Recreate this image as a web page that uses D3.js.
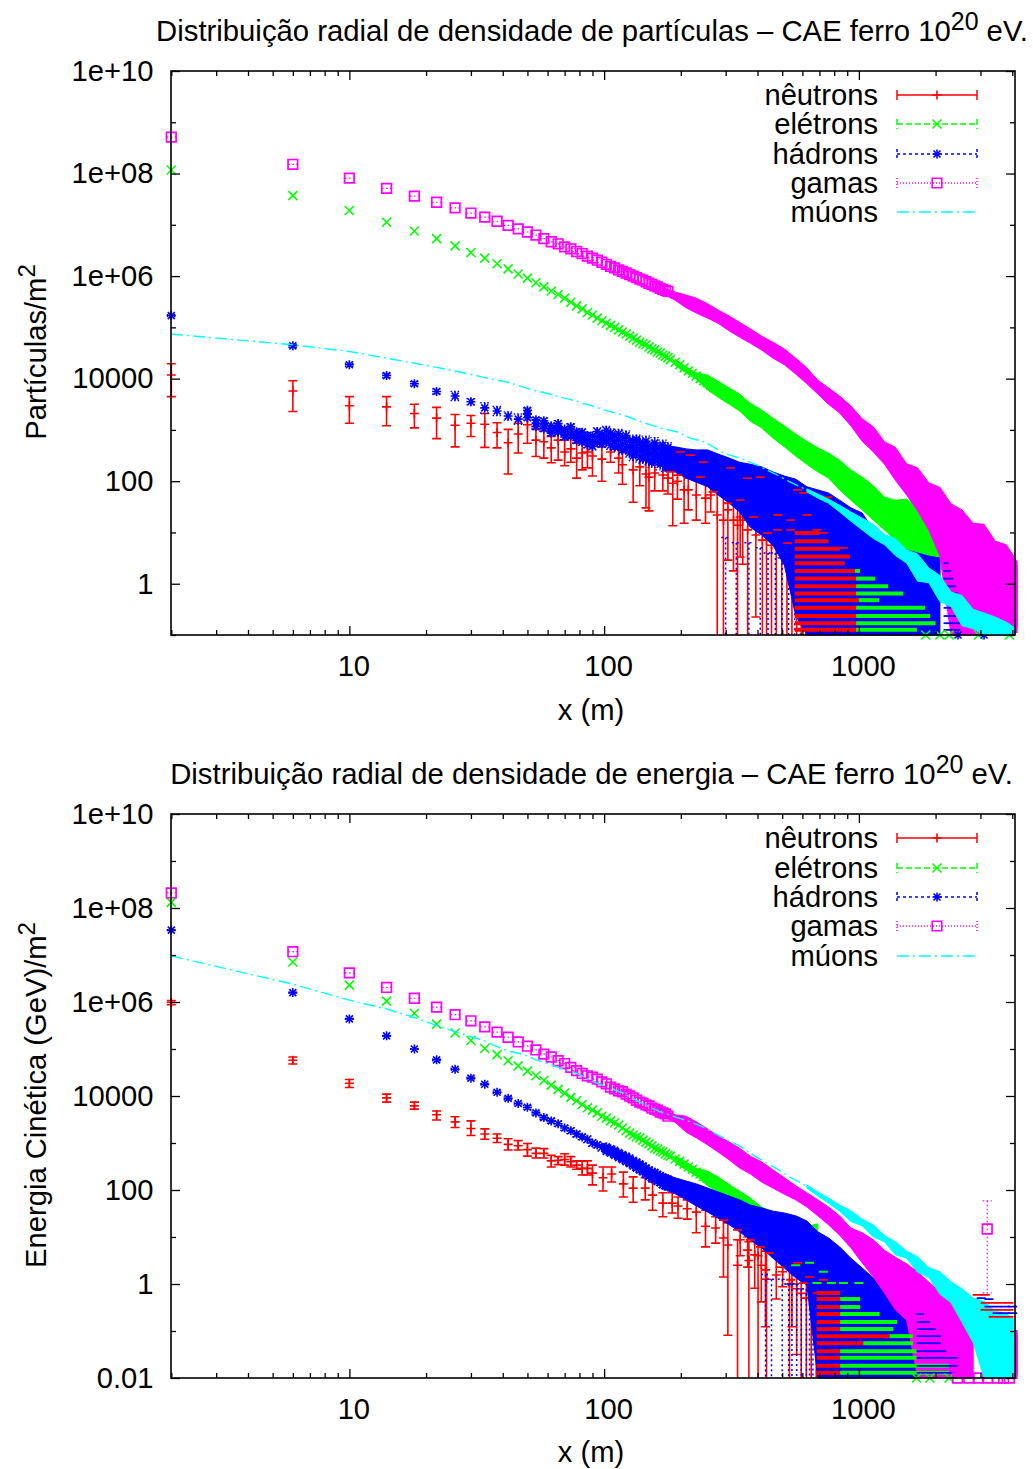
<!DOCTYPE html>
<html>
<head>
<meta charset="utf-8">
<script src="https://cdn.jsdelivr.net/npm/d3@7"></script>
<style>
  body { margin: 0; background: #fff; }
  text { font-family: "Liberation Sans", Arial, sans-serif; fill: #000; }
</style>
</head>
<body>
<svg id="grafico" width="1033" height="1469"></svg>
<script>
var binsX = [2,6,10,14,18,22,26,30,34,38,42,46,50,54,58,62,66,70,74,78,82,86,90,94,98,102,106,110,114,118,122,126,130,134,138,142,146,150,154,158,162,166,170,174,178];

var gamasTopo = [8.71,8.18,7.91,7.71,7.56,7.44,7.33,7.23,7.15,7.07,6.99,6.92,6.86,6.80,6.73,6.67,6.63,6.57,6.53,6.48,6.44,6.39,6.35,6.31,6.27,6.23,6.19,6.16,6.12,6.09,6.06,6.03,6.00,5.97,5.94,5.92,5.89,5.86,5.84,5.81,5.79,5.76,5.74,5.72,5.70];
var eletronsTopo = [8.07,7.57,7.28,7.05,6.88,6.73,6.59,6.46,6.35,6.24,6.14,6.04,5.96,5.87,5.79,5.71,5.64,5.57,5.49,5.42,5.36,5.29,5.24,5.18,5.13,5.08,5.04,5.00,4.95,4.91,4.87,4.83,4.79,4.75,4.71,4.68,4.66,4.62,4.58,4.56,4.52,4.50,4.46,4.44,4.41];
var hadronsTopo = [5.23,4.64,4.27,4.06,3.90,3.75,3.66,3.55,3.43,3.37,3.27,3.21,3.31,3.13,3.10,3.01,3.04,2.94,2.97,2.88,2.86,2.80,2.78,2.86,2.82,2.88,2.82,2.78,2.80,2.72,2.76,2.67,2.63,2.69,2.61,2.57,2.63,2.55,2.51,2.59,2.53,2.49,2.55,2.45,2.51];
var hadronsErrTopo = [0.02,0.03,0.03,0.04,0.04,0.05,0.09,0.06,0.10,0.09,0.08,0.10,0.12,0.11,0.13,0.12,0.14,0.13,0.15,0.14,0.16,0.15,0.17,0.18,0.16,0.19,0.20,0.18,0.21,0.19,0.22,0.20,0.23,0.21,0.24,0.22,0.25,0.23,0.24,0.26,0.22,0.27,0.25,0.26,0.24];

var gamasBase = [8.32,7.07,6.62,6.31,6.08,5.89,5.73,5.60,5.47,5.36,5.25,5.15,5.06,4.98,4.89,4.83,4.75,4.69,4.61,4.54,4.48,4.43,4.40,4.36,4.30,4.26,4.19,4.15,4.11,4.09,4.04,4.00,3.96,3.91,3.87,3.85,3.81,3.79,3.74,3.72,3.70,3.66,3.64,3.62,3.57];
var eletronsBase = [8.12,6.85,6.36,6.02,5.76,5.53,5.34,5.18,5.01,4.88,4.75,4.64,4.53,4.43,4.33,4.23,4.14,4.06,3.97,3.90,3.82,3.75,3.70,3.64,3.57,3.53,3.47,3.43,3.38,3.32,3.26,3.21,3.17,3.13,3.11,3.06,3.02,2.98,2.94,2.89,2.87,2.83,2.81,2.77,2.74];
var hadronsBase = [7.53,6.20,5.64,5.28,5.00,4.77,4.57,4.38,4.25,4.08,3.95,3.84,3.76,3.64,3.54,3.47,3.41,3.32,3.26,3.19,3.13,3.08,3.00,2.96,2.91,2.87,2.83,2.79,2.74,2.70,2.66,2.62,2.57,2.53,2.49,2.45,2.40,2.36,2.32,2.30,2.26,2.23,2.19,2.17,2.15];
var hadronsErrBase = [0.01,0.01,0.01,0.01,0.01,0.02,0.02,0.02,0.02,0.03,0.03,0.03,0.04,0.04,0.04,0.05,0.05,0.05,0.06,0.06,0.06,0.07,0.07,0.07,0.08,0.08,0.08,0.09,0.09,0.09,0.10,0.10,0.10,0.11,0.11,0.11,0.12,0.12,0.12,0.13,0.13,0.13,0.14,0.14,0.14];

// eletrons: os xis continuam visiveis alem dos outros simbolos
var eletronsExtraX = [182,190,198,206,214,222,230,238,246,254,262,270,280,290,300];
var eletronsExtraTopo = [4.37,4.32,4.27,4.21,4.15,4.10,4.05,4.00,3.96,3.92,3.87,3.83,3.79,3.74,3.70];
var eletronsExtraBase = [2.72,2.66,2.61,2.55,2.49,2.44,2.38,2.34,2.29,2.25,2.21,2.16,2.12,2.08,2.04];

// neutrons: x, valor, barra superior, barra inferior
var neutronsXTopo = [2,6,10,14,18,22,26,30,34,38,42,46,50,54,58,62,66,70,74,78,82,86,90,98,106,114,118,130,138,146,150,158,170,178,186,194,206,214,230,250,262,278,294,306,322,334,342,350,366,394,418,434,454,474,498,522,546,570,594,618,642,674,706];
var neutronsTopo = [4.07,3.76,3.47,3.45,3.32,3.23,3.09,3.13,3.11,2.95,2.75,2.92,3.10,2.80,2.77,2.65,2.80,2.57,2.63,2.45,2.55,2.57,2.49,2.43,2.57,2.45,2.32,2.22,2.28,2.14,2.08,2.16,2.12,2.06,1.96,2.00,1.83,1.83,1.73,1.67,1.73,1.34,1.24,1.44,1.24,1.14,1.30,1.24,1.05,0.95,0.85,0.85,0.75,0.75,0.66,0.56,0.5,0.45,0.4,0.35,0.3,0.2,0.1];
var neutronsAltoTopo = [4.29,3.96,3.65,3.65,3.50,3.44,3.30,3.28,3.32,3.14,3.01,3.13,3.32,3.01,2.98,2.87,3.00,2.80,2.84,2.74,2.78,2.80,2.72,2.67,2.74,2.67,2.57,2.53,2.51,2.43,2.41,2.37,2.32,2.30,2.32,2.22,2.12,2.06,2.02,1.96,1.92,1.89,1.83,1.87,1.73,1.69,1.73,1.69,1.63,1.53,1.44,1.40,1.34,1.34,1.24,1.14,1.1,1.05,1.0,0.95,0.9,0.8,0.7];
var neutronsBaixoTopo = [3.65,3.36,3.13,3.08,3.04,2.83,2.67,2.87,2.66,2.65,2.14,2.55,2.74,2.48,2.45,2.36,2.41,2.30,2.37,2.06,2.22,2.26,2.10,2.00,2.37,2.16,1.94,1.59,1.91,1.48,1.42,1.81,1.81,1.75,1.13,1.65,1.18,1.44,1.24,1.18,1.40,-1,-1,0.46,0.25,-1,0.52,0.38,-1,-0.65,-1,-1,-1,-1,-1,-1,-1,-1,-1,-1,-1,-1,-1];

var neutronsXBase = [2,6,10,14,18,22,26,30,34,38,42,46,50,54,58,62,66,70,74,78,82,86,90,99,107,119,130,145,155,170,185,195,212,230,250,274,294,306,334,342,366,370,390,402,414,430,434,474,502,534,546,570,594,622,650,680];
var neutronsBase = [5.99,4.76,4.27,3.96,3.79,3.60,3.45,3.31,3.19,3.10,2.97,2.94,2.86,2.78,2.78,2.62,2.63,2.65,2.60,2.53,2.46,2.46,2.36,2.26,2.34,2.13,2.04,2.04,1.89,1.72,1.72,1.66,1.60,1.53,1.23,1.19,0.98,0.83,0.40,0.94,0.72,0.5,0.62,0.6,0.40,0.30,0.1,0.19,0.26,0,0,-0.1,-0.2,-0.3,-0.3,-0.3];
var neutronsAltoBase = [6.03,4.83,4.35,4.04,3.87,3.68,3.56,3.47,3.30,3.19,3.09,3.05,2.99,2.89,2.88,2.74,2.71,2.77,2.71,2.62,2.62,2.62,2.53,2.49,2.49,2.38,2.28,2.26,2.17,1.94,1.94,1.85,1.79,1.85,1.57,1.43,1.38,1.30,0.94,1.21,1.0,0.9,1.0,0.85,0.79,0.77,0.7,0.57,0.45,0.40,0.45,0.30,0.2,0.1,0.1,0];
var neutronsBaixoBase = [5.94,4.68,4.18,3.87,3.72,3.49,3.33,3.16,3.08,3.01,2.85,2.85,2.72,2.68,2.68,2.49,2.54,2.53,2.49,2.44,2.32,2.32,2.11,1.98,2.17,1.85,1.74,1.79,1.57,1.43,1.51,1.40,1.38,1.09,0.79,0.87,0.15,-1.09,-2,0.60,0.36,-2,-0.09,-2,-0.38,-0.91,-2,-0.32,-0.06,-2,-0.91,-1.5,-2,-2,-2,-2];

// envelope das nuvens densas, onde os simbolos ja formam uma faixa cheia
var faixaX = [170,190,210,230,255,280,310,340,375,415,460,510,565,625,690,760,840,930,1030,1140,1260,1390,1540,1700,1880,2080,2300,2540,2810,3100,3430,3790,4100];

var gamasAltoTopo = [5.77,5.69,5.63,5.57,5.46,5.34,5.22,5.10,4.97,4.83,4.71,4.58,4.40,4.21,3.97,3.82,3.66,3.47,3.22,3.06,2.77,2.66,2.34,2.26,1.97,1.88,1.56,1.44,1.18,1.16,0.83,0.76,0.50];
var gamasBaixoTopo = [5.65,5.53,5.38,5.28,5.18,5.08,4.93,4.81,4.69,4.56,4.40,4.27,4.09,3.90,3.70,3.50,3.33,3.08,2.78,2.57,2.33,2.02,1.73,1.42,1.05,0.54,-1,-1,-1,-1,-1,-1,-1];
var eletronsAltoTopo = [4.38,4.23,4.11,4.07,3.95,3.82,3.70,3.52,3.39,3.23,3.08,2.92,2.78,2.65,2.55,2.41,2.22,2.08,1.91,1.69,1.63,1.65,1.50,1.24,1.15];
var eletronsBaixoTopo = [4.26,4.11,3.99,3.78,3.64,3.50,3.37,3.17,3.04,2.84,2.67,2.49,2.33,2.18,2.06,1.83,1.63,1.44,1.24,1.05,0.85,0.66,0.46,0.27,0.07];
var hadronsAltoTopo = [2.69,2.67,2.63,2.61,2.61,2.53,2.45,2.37,2.33,2.28,2.18,2.10,2.04,1.89,1.83,1.77,1.63,1.48,1.38,1.05,0.89,0.75,0.66,0.60,0.54,0.50];
var hadronsBaixoTopo = [2.22,2.18,2.06,1.98,1.89,1.73,1.57,1.40,1.10,0.95,0.75,0.36,-0.62,-1,-1,-1,-1,-1,-1,-1,-1,-1,-1,-1,-1,-1];
var muonsAltoTopo = [1.85,1.75,1.65,1.53,1.40,1.28,1.16,0.96,0.88,0.66,0.58,0.31,0.16,-0.16,-0.23,-0.50,-0.57,-0.65,-0.75,-0.86];
var muonsBaixoTopo = [1.79,1.67,1.57,1.40,1.22,1.05,0.88,0.76,0.55,0.40,0.05,0.02,-0.35,-0.45,-0.82,-0.88,-1,-1,-1,-1];

var gamasAltoBase = [3.72,3.60,3.57,3.45,3.30,3.15,3.02,2.89,2.72,2.60,2.43,2.26,2.09,1.94,1.79,1.64,1.45,1.19,1.09,0.94,0.72,0.57,0.43,0.26,0.04,-0.15,-0.40,-0.66,-1.13];
var gamasBaixoBase = [3.56,3.44,3.23,3.11,2.96,2.81,2.64,2.47,2.34,2.17,2.04,1.91,1.79,1.64,1.45,1.26,1.04,0.77,0.45,0.15,-0.19,-0.55,-0.77,-2,-2,-2,-2,-2,-2];
var eletronsAltoBase = [2.74,2.59,2.46,2.40,2.28,2.11,1.98,1.83,1.64,1.51,1.43,1.32,1.23,1.28];
var eletronsBaixoBase = [2.58,2.43,2.30,2.09,1.96,1.81,1.68,1.53,1.32,1.11,0.83,0.51,0.19,-0.13];
var hadronsAltoBase = [2.35,2.26,2.19,2.13,2.04,1.96,1.87,1.79,1.68,1.62,1.55,1.51,1.45,1.34,1.11,0.98,0.79,0.55,0.34,0.13,-0.13,-0.34,-0.55,-0.77];
var hadronsBaixoBase = [2.03,1.92,1.79,1.66,1.53,1.40,1.26,1.11,0.94,0.77,0.55,0.34,0.13,-0.02,-2,-2,-2,-2,-2,-2,-2,-2,-2,-2];
var muonsAltoBase = [2.11,1.96,1.83,1.68,1.56,1.38,1.26,1.03,0.90,0.70,0.58,0.35,0.26,0.05,-0.10,-0.30,-0.37,-0.58,-0.63,-0.77];
var muonsBaixoBase = [2.04,1.87,1.72,1.55,1.33,1.24,1.00,0.90,0.62,0.55,0.25,0.14,-0.22,-0.40,-0.82,-1.25,-2,-2,-2,-2];

// muons: linha ate onde vira faixa
var muonsX = [2,6,10,14,18,22,26,30,34,38,42,46,50,54,58,62,66,70,74,78,82,87,100,119,138,165,194,218,250,294,340,397,470,534,625];
var muonsTopo = [4.87,4.66,4.53,4.40,4.30,4.22,4.15,4.08,4.02,3.97,3.93,3.87,3.81,3.76,3.73,3.69,3.65,3.62,3.59,3.56,3.52,3.49,3.39,3.29,3.17,3.04,2.96,2.84,2.76,2.55,2.45,2.32,2.14,1.99,1.83];
var muonsBase = [6.98,6.38,6.04,5.85,5.67,5.50,5.37,5.26,5.17,5.05,4.96,4.91,4.85,4.77,4.72,4.66,4.61,4.56,4.52,4.48,4.43,4.34,4.22,4.06,3.87,3.67,3.54,3.45,3.32,3.11,2.94,2.70,2.47,2.28,2.08];

// barras de erro inferiores caem em niveis discretos e formam as listras
var niveisTopo = [0.99,0.83,0.68,0.53,0.40,0.25,0.10,-0.05,-0.19,-0.32,-0.47,-0.63,-0.77,-0.90];
var listraVermelhaTopo = [700,760,844,923,880,965,975,975,975,1000,975,975,975,975];
var listraVerdeTopo = [0,0,0,0,0,1010,1160,1303,1493,1200,1820,1905,2000,1690];
var listraAzulTopo = [0,0,0,0,2250,2300,2350,2400,2450,2500,2500,2450,2500,2500];
var niveisBase = [-0.19,-0.32,-0.49,-0.64,-0.81,-0.96,-1.11,-1.26,-1.43,-1.57,-1.74,-1.89];
var listraVermelhaBase = [844,844,844,844,844,844,1320,1040,844,844,844,844];
var listraVerdeBase = [0,1011,1011,1206,1413,1365,1630,1630,1685,1685,2260,2260];
var listraAzulBase = [0,0,0,1800,1900,2000,2100,2100,2200,2440,2440,2440];

// capas de barras que aparecem no meio da nuvem azul
var capasVermelhasXTopo = [182,194,199,218,239,245,268,305,313,342,365,387,411,438,480,525,540,575,607,625,685,725,755,870,480,540,607];
var capasVermelhasTopo = [2.18,2.12,2.57,2.51,2.08,2.37,1.79,1.57,2.26,1.63,2.06,1.30,2.08,0.99,1.05,0.79,1.24,1.83,1.77,1.34,1.05,0.99,1.69,0.70,1.34,1.05,0.99];
var capasVermelhasXBase = [294,334,375,411,445,490,540,607,685,575,640,725];
var capasVermelhasBase = [1.36,1.15,0.94,0.79,0.66,0.36,0.09,0.02,-0.19,0.45,0.15,0.09];
var capasVerdesXTopo = [1210,1330,1460,1610,1780,1300,1500,1700];
var capasVerdesTopo = [1.30,1.15,1.10,0.95,0.90,0.85,0.80,0.70];
var capasVerdesXBase = [565,640,725,780,870,1000,685,780];
var capasVerdesBase = [0.40,0.45,0.26,0.02,0.02,0.02,0.02,-0.3];

// barras pontilhadas dos hadrons que descem ate o eixo
var hadronsBarrasXTopo = [300,330,370,410,440,470,500,530,560,590];
var hadronsBarrasTopo = [0.9,0.8,0.8,0.7,0.6,0.6,0.5,0.5,0.4,0.3];
var hadronsBarrasXBase = [430,454,500,530,546,570,594,622,640,660];
var hadronsBarrasBase = [0.2,0.1,0.1,0,0,0,-0.1,-0.1,-0.2,-0.2];

// pontos soltos na borda direita e em cima do eixo
var gamasDireitaTopo = [0.35,0.25,0.15,0.05,-0.05,-0.15,-0.25,-0.35,-0.45,-0.55,-0.65,-0.75,-0.85];
var gamasDireitaBase = [-1.1,-1.18,-1.26,-1.34,-1.42,-1.5,-1.58,-1.66,-1.74,-1.82,-1.9];
var eletronsEixoXTopo = [1830,2080,2260,2950,3900];
var hadronsEixoXTopo = [2450,3100];
var eletronsEixoXBase = [1685,1900,2260];
var gamasEixoXBase = [2440,2700,2950,3200,3500,3700,3900];

// gama isolado com barra grande no painel de baixo
var gamaIsoladoX = [3190];
var gamaIsolado = [1.17];
var gamaIsoladoAlto = [1.77];
var gamaIsoladoBaixo = [-0.19];

// nuvem final de neutrons e hadrons no painel de baixo
var caudaVermelhaX = [2910,3133,3133,3363,3363,3617,3617,3883,3883,3883,3617,3363,3133];
var caudaVermelha = [-0.23,-0.23,-0.40,-0.40,-0.55,-0.40,-0.55,-0.40,-0.55,-0.70,-0.70,-0.70,-0.55];
var caudaAzulX = [3020,3240,3490,3750,4015,3490,3750,4015,3240];
var caudaAzul = [-0.30,-0.32,-0.48,-0.48,-0.48,-0.62,-0.62,-0.62,-0.48];

var rotulosTopo = ["1e+10","1e+08","1e+06","10000","100","1"];
var ticksTopo = [1e10,1e8,1e6,1e4,100,1];
var menoresTopo = [1e9,1e7,1e5,1e3,10,0.1];
var rotulosBase = ["1e+10","1e+08","1e+06","10000","100","1","0.01"];
var ticksBase = [1e10,1e8,1e6,1e4,100,1,0.01];
var menoresBase = [1e9,1e7,1e5,1e3,10,0.1];
var ticksX = [10,100,1000];
var menoresX = [2,3,4,5,6,7,8,9,20,30,40,50,60,70,80,90,200,300,400,500,600,700,800,900,2000,3000,4000];
var legenda = ["nêutrons","elétrons","hádrons","gamas","múons"];

var VERMELHO = "#ff0000", VERDE = "#00ff00", AZUL = "#0000ff", MAGENTA = "#ff00ff", CIANO = "#00ffff";
var FONTE = 29.2;

var svg = d3.select("#grafico");
var escalaX = d3.scaleLog().domain([2, 4100]).range([171.3, 1015]);

var simbolos = {
  mais: "M-4.5,0H4.5M0,-4.5V4.5",
  xis: "M-4.5,-4.5L4.5,4.5M-4.5,4.5L4.5,-4.5",
  estrela: "M-4.5,0H4.5M0,-4.5V4.5M-3.5,-3.5L3.5,3.5M-3.5,3.5L3.5,-3.5",
  quadrado: "M-4.8,-4.8H4.8V4.8H-4.8Z"
};

function desenhaSimbolos(g, xs, vs, nome, cor, y) {
  g.append("g").selectAll("path")
    .data(d3.zip(xs, vs))
    .enter().append("path")
    .attr("d", simbolos[nome])
    .attr("transform", function(d) { return "translate(" + escalaX(d[0]) + "," + y(Math.pow(10, d[1])) + ")"; })
    .attr("fill", "none")
    .attr("stroke", cor)
    .attr("stroke-width", nome == "quadrado" ? 1.7 : 1.6);
}

function desenhaFaixa(g, xs, alto, baixo, cor, y) {
  var area = d3.area()
    .x(function(d) { return escalaX(d[0]); })
    .y0(function(d) { return y(Math.pow(10, d[2])); })
    .y1(function(d) { return y(Math.pow(10, d[1])); });
  g.append("path")
    .datum(d3.zip(xs, alto, baixo))
    .attr("d", area)
    .attr("fill", cor)
    .attr("stroke", cor)
    .attr("stroke-width", 1);
}

function desenhaBarras(g, xs, altos, baixos, cor, tracejado, y, largura) {
  var linhas = g.append("g")
    .attr("stroke", cor)
    .attr("stroke-width", largura)
    .attr("stroke-dasharray", tracejado)
    .attr("fill", "none");
  var dados = d3.zip(xs, altos, baixos);
  linhas.selectAll("path")
    .data(dados)
    .enter().append("path")
    .attr("d", function(d) {
      var px = escalaX(d[0]), a = y(Math.pow(10, d[1])), b = y(Math.pow(10, d[2]));
      var t = "M" + px + "," + a + "V" + b + "M" + (px - 4.5) + "," + a + "H" + (px + 4.5);
      if (b < y.range()[0] - 0.5) t += "M" + (px - 4.5) + "," + b + "H" + (px + 4.5);
      return t;
    });
}

function desenhaListras(g, niveis, inicio, fins, cor, largura, y) {
  g.append("g").selectAll("line")
    .data(d3.zip(niveis, fins).filter(function(d) { return d[1] > inicio; }))
    .enter().append("line")
    .attr("x1", escalaX(inicio))
    .attr("x2", function(d) { return escalaX(d[1]); })
    .attr("y1", function(d) { return y(Math.pow(10, d[0])); })
    .attr("y2", function(d) { return y(Math.pow(10, d[0])); })
    .attr("stroke", cor)
    .attr("stroke-width", largura);
}

function desenhaEixos(g, y, t) {
  function limpa(s) { s.select(".domain").remove(); s.selectAll("line").attr("stroke", "#000").attr("stroke-width", 1.3); }
  g.append("g").attr("transform", "translate(0," + t.baixo + ")")
    .call(d3.axisBottom(escalaX).tickValues(ticksX).tickSize(-9).tickPadding(20).tickFormat(d3.format("d")))
    .call(limpa)
    .call(function(s) { s.selectAll("text").attr("font-size", FONTE).attr("font-family", "Liberation Sans").attr("dx", 4); });
  g.append("g").attr("transform", "translate(0," + t.baixo + ")")
    .call(d3.axisBottom(escalaX).tickValues(menoresX).tickSize(-5).tickFormat("")).call(limpa);
  g.append("g").attr("transform", "translate(0," + t.topo + ")")
    .call(d3.axisTop(escalaX).tickValues(ticksX).tickSize(-9).tickFormat("")).call(limpa);
  g.append("g").attr("transform", "translate(0," + t.topo + ")")
    .call(d3.axisTop(escalaX).tickValues(menoresX).tickSize(-5).tickFormat("")).call(limpa);

  g.append("g").attr("transform", "translate(171,0)")
    .call(d3.axisLeft(y).tickValues(t.ticks).tickSize(-9).tickPadding(17.5)
      .tickFormat(function(d, i) { return t.rotulos[i]; }))
    .call(limpa)
    .call(function(s) { s.selectAll("text").attr("font-size", FONTE).attr("font-family", "Liberation Sans"); });
  g.append("g").attr("transform", "translate(171,0)")
    .call(d3.axisLeft(y).tickValues(t.menores).tickSize(-5).tickFormat("")).call(limpa);
  g.append("g").attr("transform", "translate(1015,0)")
    .call(d3.axisRight(y).tickValues(t.ticks).tickSize(-9).tickFormat("")).call(limpa);
  g.append("g").attr("transform", "translate(1015,0)")
    .call(d3.axisRight(y).tickValues(t.menores).tickSize(-5).tickFormat("")).call(limpa);

  g.append("rect")
    .attr("x", 171).attr("y", t.topo)
    .attr("width", 844).attr("height", t.baixo - t.topo)
    .attr("fill", "none").attr("stroke", "#000").attr("stroke-width", 1.6);
}

function desenhaLegenda(g, ys) {
  var estilos = [
    { cor: VERMELHO, traco: null, simbolo: "mais" },
    { cor: VERDE, traco: "6,3", simbolo: "xis" },
    { cor: AZUL, traco: "3,3", simbolo: "estrela" },
    { cor: MAGENTA, traco: "1,2", simbolo: "quadrado" },
    { cor: CIANO, traco: "12,4,2,4", simbolo: null }
  ];
  legenda.forEach(function(nome, i) {
    var e = estilos[i], yl = ys[i];
    g.append("text").attr("x", 878).attr("y", yl + 10)
      .attr("text-anchor", "end").attr("font-size", FONTE).text(nome);
    g.append("line").attr("x1", 897).attr("x2", 977).attr("y1", yl).attr("y2", yl)
      .attr("stroke", e.cor).attr("stroke-width", 1.5).attr("stroke-dasharray", e.traco);
    if (e.simbolo) {
      [897, 977].forEach(function(px) {
        g.append("line").attr("x1", px).attr("x2", px).attr("y1", yl - 5).attr("y2", yl + 5)
          .attr("stroke", e.cor).attr("stroke-width", 1.5).attr("stroke-dasharray", e.traco);
      });
      g.append("path").attr("d", simbolos[e.simbolo])
        .attr("transform", "translate(937," + yl + ")")
        .attr("fill", "none").attr("stroke", e.cor).attr("stroke-width", 1.6);
    }
  });
}

function titulo(g, x, y, texto, tamanho) {
  var t = g.append("text").attr("x", x).attr("y", y).attr("text-anchor", "middle").attr("font-size", tamanho);
  t.append("tspan").text(texto);
  t.append("tspan").attr("font-size", tamanho * 0.85).attr("dy", -11).text("20");
  t.append("tspan").attr("dy", 11).text(" eV.");
}

function rotuloY(g, cx, cy, texto) {
  var t = g.append("text")
    .attr("transform", "translate(" + cx + "," + cy + ") rotate(-90)")
    .attr("text-anchor", "middle").attr("font-size", FONTE);
  t.append("tspan").text(texto);
  t.append("tspan").attr("font-size", 24).attr("dy", -11).text("2");
}

function marcasDensas(g, d, y) {
  // neutrons primeiro, depois eletrons e hadrons por cima
  desenhaBarras(g, d.nX, d.nAlto, d.nBaixo, VERMELHO, null, y, 1.6);
  desenhaSimbolos(g, d.nX, d.nV, "mais", VERMELHO, y);
  desenhaFaixa(g, d.faixaE, d.eAlto, d.eBaixo, VERDE, y);
  desenhaSimbolos(g, binsX, d.e, "xis", VERDE, y);
  desenhaSimbolos(g, eletronsExtraX, d.eExtra, "xis", VERDE, y);
  desenhaBarras(g, d.hBarraX, d.hBarra, d.hBarra.map(function() { return d.chao; }), AZUL, "2,3", y, 1.5);
  desenhaBarras(g, binsX, d.h.map(function(v, i) { return v + d.hErr[i]; }), d.h.map(function(v, i) { return v - d.hErr[i]; }), AZUL, "1.5,2", y, 1.3);
  desenhaFaixa(g, d.faixaH, d.hAlto, d.hBaixo, AZUL, y);
  desenhaSimbolos(g, binsX, d.h, "estrela", AZUL, y);
  // a nuvem de hadrons enche nas pontas das barras de erro
  var nuvemX = binsX.slice(d.iniNuvem);
  var nuvemV = d.h.slice(d.iniNuvem), nuvemE = d.hErr.slice(d.iniNuvem);
  desenhaSimbolos(g, nuvemX, nuvemV.map(function(v, i) { return v + nuvemE[i] * 0.6; }), "estrela", AZUL, y);
  desenhaSimbolos(g, nuvemX, nuvemV.map(function(v, i) { return v - nuvemE[i] * 0.6; }), "estrela", AZUL, y);
  desenhaBarras(g, d.capasX, d.capas, d.capas, VERMELHO, null, y, 1.8);
  desenhaBarras(g, d.capasVX, d.capasV, d.capasV, VERDE, null, y, 2);
  desenhaFaixa(g, d.faixaG, d.gAlto, d.gBaixo, MAGENTA, y);
  desenhaSimbolos(g, binsX, d.g, "quadrado", MAGENTA, y);
  // pontinhos das barras de erro dentro dos quadrados
  desenhaBarras(g, binsX.slice(0, 30), d.g.slice(0, 30), d.g.slice(0, 30), MAGENTA, "1.5,2.5", y, 1.2);
  desenhaListras(g, d.niveis, d.iniVermelho, d.lVermelha, VERMELHO, 4, y);
  d3.zip(d.niveis, d.lVermelha, d.lVerde).forEach(function(n) {
    if (n[2] > n[1]) desenhaListras(g, [n[0]], n[1], [n[2]], VERDE, 4, y);
  });
  desenhaListras(g, d.niveis, d.iniAzul, d.lAzul, AZUL, 1.8, y);
  desenhaSimbolos(g, d.gDir.map(function() { return 3990; }), d.gDir, "quadrado", MAGENTA, y);
}

// painel de cima
var yTopo = d3.scaleLog().domain([0.1, 1e10]).range([635, 71]);
var painelTopo = svg.append("g");
titulo(painelTopo, 592, 41, "Distribuição radial de densidade de partículas – CAE ferro 10", 29.3);
rotuloY(painelTopo, 46, 352, "Partículas/m");
painelTopo.append("text").attr("x", 591).attr("y", 720).attr("text-anchor", "middle").attr("font-size", FONTE).text("x (m)");
marcasDensas(painelTopo, {
  nX: neutronsXTopo, nV: neutronsTopo, nAlto: neutronsAltoTopo, nBaixo: neutronsBaixoTopo,
  e: eletronsTopo, eExtra: eletronsExtraTopo, h: hadronsTopo, hErr: hadronsErrTopo, g: gamasTopo,
  faixaE: faixaX.slice(1, 26), eAlto: eletronsAltoTopo, eBaixo: eletronsBaixoTopo,
  faixaH: faixaX.slice(0, 26), hAlto: hadronsAltoTopo, hBaixo: hadronsBaixoTopo,
  faixaG: faixaX, gAlto: gamasAltoTopo, gBaixo: gamasBaixoTopo,
  hBarraX: hadronsBarrasXTopo, hBarra: hadronsBarrasTopo, chao: -1, iniNuvem: 12,
  capasX: capasVermelhasXTopo, capas: capasVermelhasTopo, capasVX: capasVerdesXTopo, capasV: capasVerdesTopo,
  niveis: niveisTopo, lVermelha: listraVermelhaTopo, lVerde: listraVerdeTopo, lAzul: listraAzulTopo,
  iniVermelho: 560, iniAzul: 2150, gDir: gamasDireitaTopo
}, yTopo);
desenhaSimbolos(painelTopo, eletronsEixoXTopo, eletronsEixoXTopo.map(function() { return -1; }), "xis", VERDE, yTopo);
desenhaSimbolos(painelTopo, hadronsEixoXTopo, hadronsEixoXTopo.map(function() { return -1; }), "estrela", AZUL, yTopo);
desenhaFaixa(painelTopo, faixaX.slice(13), muonsAltoTopo, muonsBaixoTopo, CIANO, yTopo);
var linhaMuon = function(y) {
  return d3.line().x(function(d) { return escalaX(d[0]); }).y(function(d) { return y(Math.pow(10, d[1])); });
};
painelTopo.append("path").datum(d3.zip(muonsX, muonsTopo)).attr("d", linhaMuon(yTopo))
  .attr("fill", "none").attr("stroke", CIANO).attr("stroke-width", 1.4).attr("stroke-dasharray", "12,4,2,4");
desenhaEixos(painelTopo, yTopo, { topo: 71, baixo: 635, ticks: ticksTopo, rotulos: rotulosTopo, menores: menoresTopo });
desenhaLegenda(painelTopo, [95, 124, 154, 183, 212]);

// painel de baixo
var yBase = d3.scaleLog().domain([0.01, 1e10]).range([1378, 814]);
var painelBase = svg.append("g");
titulo(painelBase, 591.5, 784, "Distribuição radial de densidade de energia – CAE ferro 10", 29.3);
rotuloY(painelBase, 46, 1095, "Energia Cinética (GeV)/m");
painelBase.append("text").attr("x", 591).attr("y", 1462).attr("text-anchor", "middle").attr("font-size", FONTE).text("x (m)");
marcasDensas(painelBase, {
  nX: neutronsXBase, nV: neutronsBase, nAlto: neutronsAltoBase, nBaixo: neutronsBaixoBase,
  e: eletronsBase, eExtra: eletronsExtraBase, h: hadronsBase, hErr: hadronsErrBase, g: gamasBase,
  faixaE: faixaX.slice(1, 15), eAlto: eletronsAltoBase, eBaixo: eletronsBaixoBase,
  faixaH: faixaX.slice(0, 24), hAlto: hadronsAltoBase, hBaixo: hadronsBaixoBase,
  faixaG: faixaX.slice(0, 29), gAlto: gamasAltoBase, gBaixo: gamasBaixoBase,
  hBarraX: hadronsBarrasXBase, hBarra: hadronsBarrasBase, chao: -2, iniNuvem: 25,
  capasX: capasVermelhasXBase, capas: capasVermelhasBase, capasVX: capasVerdesXBase, capasV: capasVerdesBase,
  niveis: niveisBase, lVermelha: listraVermelhaBase, lVerde: listraVerdeBase, lAzul: listraAzulBase,
  iniVermelho: 683, iniAzul: 1685, gDir: gamasDireitaBase
}, yBase);
desenhaSimbolos(painelBase, eletronsEixoXBase, eletronsEixoXBase.map(function() { return -2; }), "xis", VERDE, yBase);
desenhaSimbolos(painelBase, gamasEixoXBase, gamasEixoXBase.map(function() { return -2; }), "quadrado", MAGENTA, yBase);
desenhaFaixa(painelBase, faixaX.slice(13), muonsAltoBase, muonsBaixoBase, CIANO, yBase);
painelBase.append("path").datum(d3.zip(muonsX, muonsBase)).attr("d", linhaMuon(yBase))
  .attr("fill", "none").attr("stroke", CIANO).attr("stroke-width", 1.4).attr("stroke-dasharray", "12,4,2,4");
desenhaBarras(painelBase, gamaIsoladoX, gamaIsoladoAlto, gamaIsoladoBaixo, MAGENTA, "1.5,2.5", yBase, 1.2);
desenhaSimbolos(painelBase, gamaIsoladoX, gamaIsolado, "quadrado", MAGENTA, yBase);
desenhaBarras(painelBase, caudaVermelhaX, caudaVermelha, caudaVermelha, VERMELHO, null, yBase, 1.8);
desenhaBarras(painelBase, caudaAzulX, caudaAzul, caudaAzul, AZUL, null, yBase, 1.8);
desenhaEixos(painelBase, yBase, { topo: 814, baixo: 1378, ticks: ticksBase, rotulos: rotulosBase, menores: menoresBase });
desenhaLegenda(painelBase, [838, 868, 897, 926, 956]);
</script>
</body>
</html>
